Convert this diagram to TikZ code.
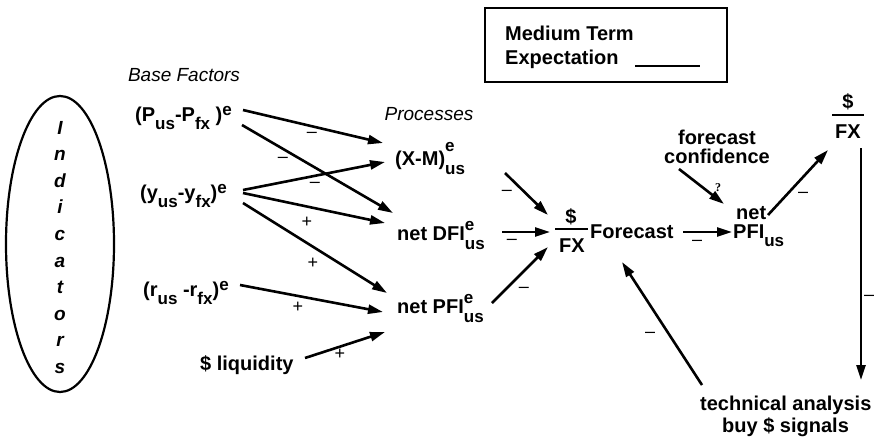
\documentclass[tikz,border=0pt]{standalone}
\usepackage{fontspec}
\setmainfont{Liberation Sans}
\newfontfamily\qfont{Liberation Serif}
\usetikzlibrary{arrows.meta,positioning}

\newcommand{\subfnt}{\fontsize{17}{17}\selectfont}
\newcommand{\lo}[1]{\raisebox{-8pt}{\subfnt #1}}
\newcommand{\hi}[1]{\raisebox{6pt}{\subfnt #1}}
\newcommand{\hilo}[3][10pt]{\rlap{\raisebox{#1}{\subfnt #2}}\raisebox{-9pt}{\subfnt #3}}

\begin{document}
\begin{tikzpicture}[x=1pt,y=-1pt,
  txt/.style={font=\fontsize{20}{19}\selectfont\bfseries,inner sep=0pt},
  ital/.style={font=\fontsize{19}{20}\selectfont\itshape,inner sep=0pt},
  letter/.style={font=\fontsize{19}{19}\selectfont\bfseries\itshape,inner sep=0pt,anchor=base},
  sgn/.style={font=\fontsize{18}{18}\selectfont,inner sep=0pt},
  arr/.style={line width=2.6pt,-{Triangle[length=15pt,width=9pt]}}]
  \useasboundingbox (0,0) rectangle (884,440);

  % indicators
  \draw[line width=2.2pt] (60,244) ellipse [x radius=54,y radius=148];
  \foreach \c [count=\i from 0] in {I,n,d,i,c,a,t,o,r,s}
    \node[letter] (ind\i) at (60,134+26.6*\i) {\c};

  % headings and legend
  \node[ital] (bf) at (184,75) {Base Factors};
  \node[ital] (pr) at (429,114) {Processes};
  \draw[line width=1.8pt] (485,8) rectangle (727,82);
  \node[txt,anchor=base west] (mt) at (505,40) {Medium Term};
  \node[txt,anchor=base west] (ex) at (505,64) {Expectation};
  \draw[line width=1.8pt] (635,66) -- (700,66);

  % base factors
  \node[txt,anchor=base west] (pf) at (135,121) {(P\lo{us}-P\lo{fx} )\hi{e}};
  \node[txt,anchor=base west] (yf) at (140,199) {(y\lo{us}-y\lo{fx})\hi{e}};
  \node[txt,anchor=base west] (rf) at (143,296) {(r\lo{us} -r\lo{fx})\hi{e}};
  \node[txt,anchor=base west] (liq) at (200,370) {\$ liquidity};

  % processes
  \node[txt,anchor=base west] (xm) at (395,165) {(X-M)\hilo[14pt]{e}{us}};
  \node[txt,anchor=base west] (dfi) at (397,240) {net DFI\hilo{e}{us}};
  \node[txt,anchor=base west] (pfi) at (397,313) {net PFI\hilo{e}{us}};

  % forecast
  \node[txt,anchor=base] (fxd) at (571,223) {\$};
  \draw[line width=2.6pt] (555,229) -- (588,229);
  \node[txt,anchor=base] (fxn) at (572,252) {FX};
  \node[txt,anchor=base west] (fc) at (590,238) {Forecast};

  % right side
  \node[txt,align=center] (conf) at (717,147) {forecast\\confidence};
  \node[txt,anchor=base west] (net) at (736,219) {net};
  \node[txt,anchor=base west] (npfi) at (733,238) {PFI\lo{us}};
  \node[txt,anchor=base] (tdol) at (848,108) {\$};
  \draw[line width=2.6pt] (832,115) -- (864,115);
  \node[txt,anchor=base] (tfx) at (848,138) {FX};
  \node[txt,anchor=base west] (ta) at (700,410) {technical analysis};
  \node[txt,anchor=base west] (tb) at (722,432) {buy \$ signals};

  % connectors
  \draw[arr] ([shift={(108,-11)}]pf.base west) -- ([shift={(-12,-22)}]xm.base west);
  \draw[arr] ([shift={(107,4)}]pf.base west) -- ([shift={(-4,-27)}]dfi.base west);
  \draw[arr] ([shift={(103,-9)}]yf.base west) -- ([shift={(-10,-3)}]xm.base west);
  \draw[arr] ([shift={(103,-6)}]yf.base west) -- ([shift={(-12,-17)}]dfi.base west);
  \draw[arr] ([shift={(103,4)}]yf.base west) -- ([shift={(-10,-20)}]pfi.base west);
  \draw[arr] ([shift={(97,-11)}]rf.base west) -- ([shift={(-14,-1)}]pfi.base west);
  \draw[arr] ([shift={(105,-12)}]liq.base west) -- ([shift={(-12,19)}]pfi.base west);
  \draw[arr] ([shift={(110,8)}]xm.base west) -- ([shift={(-24,-37)}]fxn.base);
  \draw[arr] ([shift={(105,-8)}]dfi.base west) -- ([shift={(-22,-20)}]fxn.base);
  \draw[arr] ([shift={(95,-10)}]pfi.base west) -- ([shift={(-24,-5)}]fxn.base);
  \draw[arr] ([shift={(93,-6)}]fc.base west) -- ([shift={(-1,-6)}]npfi.base west);
  \draw[arr] ([shift={(-38,22)}]conf.center) -- ([shift={(-12,-15)}]net.base west);
  \draw[arr] ([shift={(32,-4)}]net.base west) -- ([shift={(-20,12)}]tfx.base);
  \draw[arr] ([shift={(13,10)}]tfx.base) -- ([shift={(161,-30)}]ta.base west);
  \draw[arr] ([shift={(2,-25)}]ta.base west) -- ([shift={(32,24)}]fc.base west);

  % signs
  \node[sgn] at (312,135) {\textendash};
  \node[sgn] at (283,160) {\textendash};
  \node[sgn] at (315,185) {\textendash};
  \node[sgn] at (307,222) {+};
  \node[sgn] at (313,263) {+};
  \node[sgn] at (298,307) {+};
  \node[sgn] at (340,354) {+};
  \node[sgn] at (507,193) {\textendash};
  \node[sgn] at (512,242) {\textendash};
  \node[sgn] at (524,290) {\textendash};
  \node[sgn] at (697,243) {\textendash};
  \node[sgn] at (803,195) {\textendash};
  \node[sgn] at (869,298) {\textendash};
  \node[sgn] at (650,335) {\textendash};
  \node[font=\fontsize{12}{12}\selectfont\qfont\bfseries,inner sep=0pt] (q) at (718,188) {?};
\end{tikzpicture}
\end{document}
